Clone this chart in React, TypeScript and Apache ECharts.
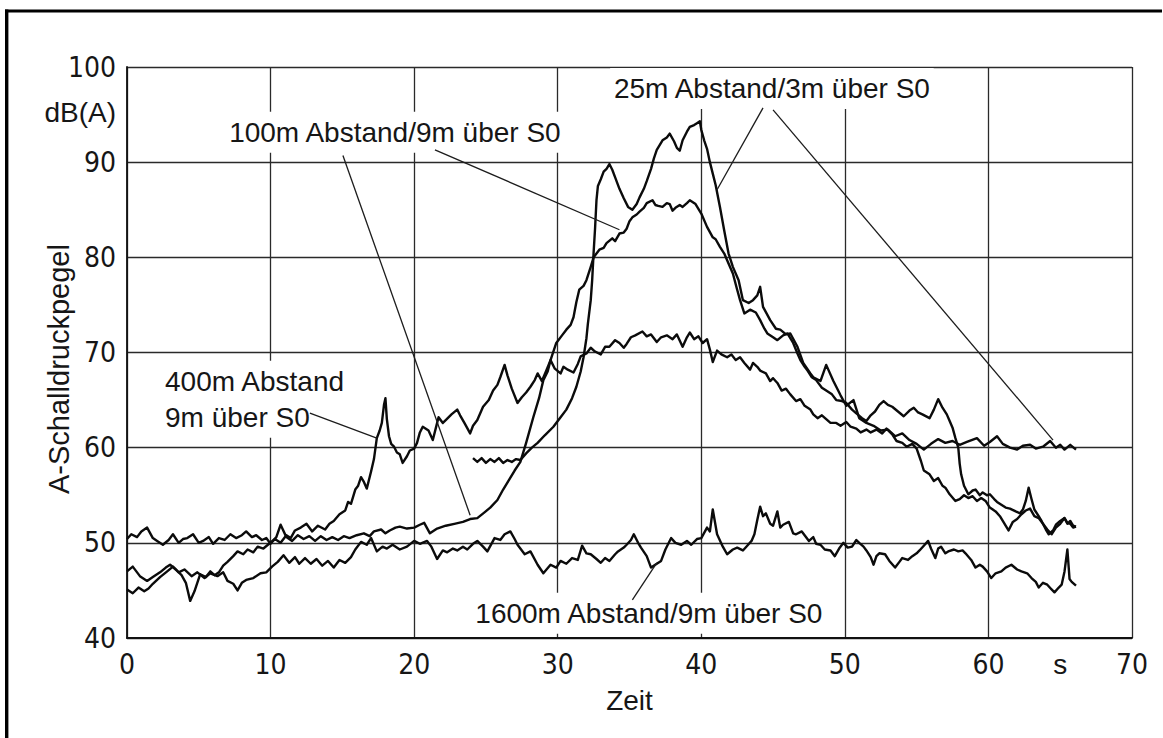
import React, { useEffect, useRef } from "react";
import * as echarts from "echarts";

// ---- axis ticks ----
const xTicks = [0, 10, 20, 30, 40, 50, 60, 70];
const yTicks = [40, 50, 60, 70, 80, 90, 100];
const unitTickAt = 65; // position of the "s" unit among the x labels

// ---- series values: [time s, level dB(A)] ----
const s25m: [number, number][] = [
  [24.1, 58.9], [24.4, 58.5], [24.7, 58.9], [25.0, 58.4], [25.3, 58.8], [25.6, 58.5], [25.9, 58.9], [26.2, 58.4],
  [26.5, 58.7], [26.8, 58.5], [27.1, 58.8], [27.4, 58.7], [27.8, 59.4], [28.2, 60.0], [28.6, 60.5], [29.1, 61.3],
  [29.7, 62.2], [30.2, 63.2], [30.6, 64.0], [31.0, 65.2], [31.3, 66.4], [31.6, 68.0], [31.8, 69.5], [32.0, 71.5],
  [32.1, 73.0], [32.3, 75.5], [32.4, 77.6], [32.5, 80.5], [32.6, 83.0], [32.7, 86.0], [32.8, 87.5], [33.0, 88.2],
  [33.2, 89.0], [33.4, 89.3], [33.6, 89.8], [33.8, 89.2], [34.0, 88.4], [34.3, 87.2], [34.6, 86.2], [34.9, 85.3],
  [35.2, 85.0], [35.5, 85.6], [35.7, 86.3], [36.0, 87.2], [36.2, 88.0], [36.5, 89.3], [36.7, 90.4], [36.9, 91.3],
  [37.1, 91.8], [37.3, 92.3], [37.6, 92.6], [37.8, 93.0], [38.1, 92.2], [38.3, 91.5], [38.5, 91.2], [38.7, 92.3],
  [39.0, 93.2], [39.2, 93.7], [39.5, 93.9], [39.7, 94.1], [39.9, 94.3], [40.0, 93.4], [40.2, 92.3], [40.4, 91.4],
  [40.6, 90.0], [40.8, 88.8], [41.0, 87.6], [41.3, 85.3], [41.6, 82.8], [41.9, 80.4], [42.2, 79.0], [42.6, 77.6],
  [42.9, 75.5], [43.3, 75.2], [43.6, 75.5], [43.9, 76.0], [44.1, 76.9], [44.3, 74.8], [44.8, 73.4], [45.2, 72.5],
  [45.5, 72.4], [45.9, 71.9], [46.2, 72.0], [46.7, 70.6], [47.1, 68.9], [47.6, 67.8], [47.8, 67.4], [48.3, 67.0],
  [48.7, 68.7], [49.2, 67.0], [49.7, 65.5], [50.1, 64.4], [50.6, 65.0], [51.0, 63.1], [51.5, 62.6], [52.0, 62.3],
  [52.5, 61.8], [53.0, 61.9], [53.5, 61.2], [54.0, 61.5], [54.5, 60.8], [55.0, 60.4], [55.5, 59.8], [56.0, 60.4],
  [56.5, 60.9], [57.0, 60.5], [57.5, 60.7], [58.0, 60.3], [58.5, 60.6], [59.2, 61.0], [59.7, 60.2], [60.1, 60.6],
  [60.6, 61.2], [61.0, 60.4], [61.5, 60.0], [62.0, 59.8], [62.4, 60.2], [62.9, 60.3], [63.3, 59.9], [63.8, 60.1],
  [64.3, 60.7], [64.7, 60.0], [65.0, 60.3], [65.3, 59.8], [65.7, 60.3], [66.1, 59.8],
];

const s100m: [number, number][] = [
  [0, 50.4], [0.3, 50.9], [0.7, 50.6], [1.0, 51.2], [1.4, 51.6], [1.8, 50.5], [2.1, 50.2], [2.5, 49.8], [2.9, 50.3],
  [3.2, 50.9], [3.6, 50.0], [3.9, 50.4], [4.2, 50.5], [4.6, 50.9], [5.0, 50.0], [5.3, 50.2], [5.7, 50.6], [6.0, 49.9],
  [6.4, 50.5], [6.8, 50.3], [7.2, 50.9], [7.6, 50.5], [8.0, 50.8], [8.3, 51.2], [8.7, 50.6], [9.0, 50.8], [9.4, 50.3],
  [9.7, 50.5], [10.0, 49.9], [10.4, 50.6], [10.7, 51.9], [11.1, 50.6], [11.5, 50.2], [11.9, 50.8], [12.3, 50.4],
  [12.7, 50.7], [13.1, 50.2], [13.5, 50.7], [13.9, 50.3], [14.3, 50.6], [14.7, 50.3], [15.1, 50.7], [15.5, 50.5],
  [16.0, 50.8], [16.5, 51.0], [16.9, 50.7], [17.2, 51.2], [17.7, 51.4], [18.0, 51.0], [18.3, 51.3], [18.7, 51.6],
  [19.0, 51.7], [19.5, 51.5], [20.0, 51.6], [20.4, 51.9], [20.7, 52.1], [21.1, 51.0], [21.6, 51.5], [22.2, 51.8],
  [22.8, 52.0], [23.4, 52.2], [23.9, 52.5], [24.4, 52.6], [24.9, 53.2], [25.3, 53.7], [25.8, 54.5], [26.2, 55.6],
  [26.6, 56.6], [27.0, 57.6], [27.4, 58.5], [27.8, 60.5], [28.3, 63.2], [28.7, 65.2], [29.0, 67.1], [29.3, 68.0],
  [29.5, 69.2], [29.9, 71.0], [30.3, 71.8], [30.6, 72.4], [30.9, 72.9], [31.1, 73.7], [31.3, 75.3], [31.5, 76.6],
  [31.8, 77.0], [32.0, 77.6], [32.3, 79.0], [32.5, 80.0], [32.9, 80.8], [33.2, 81.0], [33.4, 81.5], [33.8, 82.0],
  [34.0, 81.7], [34.3, 82.5], [34.6, 82.6], [34.8, 83.0], [35.0, 83.8], [35.2, 84.2], [35.5, 84.5], [35.7, 84.8],
  [36.0, 85.2], [36.2, 85.7], [36.6, 86.0], [36.8, 85.5], [37.0, 85.4], [37.3, 85.3], [37.6, 85.7], [37.8, 85.6],
  [38.0, 84.9], [38.2, 85.2], [38.5, 85.5], [38.7, 85.3], [39.0, 85.7], [39.2, 86.0], [39.6, 85.6], [40.0, 84.6],
  [40.4, 83.2], [40.8, 82.1], [41.0, 81.9], [41.3, 81.1], [41.6, 80.4], [41.8, 79.7], [42.2, 78.3], [42.5, 76.6],
  [42.7, 75.5], [43.0, 74.1], [43.4, 74.5], [43.8, 74.2], [44.1, 73.4], [44.4, 72.5], [44.6, 72.0], [45.0, 71.6],
  [45.3, 71.3], [45.7, 71.8], [46.0, 72.0], [46.4, 71.0], [46.7, 69.9], [46.9, 69.2], [47.2, 68.5], [47.4, 68.1],
  [47.7, 67.4], [48.0, 67.1], [48.4, 66.3], [48.7, 66.0], [49.1, 65.6], [49.4, 65.0], [49.8, 64.9], [50.1, 64.7],
  [50.5, 64.0], [50.8, 63.6], [51.2, 63.1], [51.5, 62.8], [51.8, 63.4], [52.1, 63.8], [52.4, 64.5], [52.7, 64.9],
  [53.0, 64.5], [53.3, 64.3], [53.7, 63.8], [54.1, 63.3], [54.5, 63.9], [54.8, 64.2], [55.1, 63.7], [55.4, 63.5],
  [55.9, 63.1], [56.2, 64.0], [56.5, 65.1], [56.8, 64.2], [57.1, 63.5], [57.3, 62.8], [57.5, 62.1], [57.7, 61.0],
  [57.9, 60.0], [58.0, 58.3], [58.1, 57.2], [58.3, 56.0], [58.6, 55.1], [58.9, 55.5], [59.1, 55.6], [59.4, 55.0],
  [59.6, 55.3], [59.9, 55.0], [60.1, 55.1], [60.4, 54.6], [60.6, 54.3], [60.9, 54.0], [61.2, 53.7], [61.5, 53.6],
  [61.9, 53.3], [62.2, 53.1], [62.4, 53.5], [62.6, 54.4], [62.8, 55.8], [63.0, 54.6], [63.2, 53.5], [63.5, 52.8],
  [63.7, 52.3], [64.0, 51.4], [64.2, 50.9], [64.5, 51.3], [64.7, 51.9], [65.0, 52.3], [65.3, 52.6], [65.5, 52.1],
  [65.7, 52.0], [65.9, 51.6], [66.1, 51.7],
];

const s400m: [number, number][] = [
  [0, 47.0], [0.4, 47.5], [0.9, 46.5], [1.4, 46.0], [1.8, 46.4], [2.3, 46.9], [2.7, 47.4], [3.0, 47.7], [3.4, 47.2],
  [3.8, 46.6], [4.1, 45.8], [4.4, 43.9], [4.7, 44.9], [5.1, 46.7], [5.5, 46.4], [5.8, 47.0], [6.1, 46.6], [6.4, 46.9],
  [6.7, 47.6], [7.0, 48.0], [7.4, 48.6], [7.7, 49.1], [8.1, 48.8], [8.4, 49.3], [8.8, 49.0], [9.1, 49.6], [9.5, 49.4],
  [9.9, 49.9], [10.3, 50.4], [10.7, 50.0], [11.1, 50.8], [11.4, 50.5], [11.7, 51.3], [12.1, 51.6], [12.5, 52.0],
  [12.9, 51.2], [13.3, 51.8], [13.8, 51.4], [14.1, 52.0], [14.4, 52.3], [14.8, 53.0], [15.2, 53.4], [15.4, 54.3],
  [15.6, 54.1], [15.9, 55.6], [16.1, 56.0], [16.3, 56.9], [16.5, 56.4], [16.7, 55.7], [17.0, 57.5], [17.2, 58.8],
  [17.4, 61.0], [17.6, 61.8], [17.75, 62.6], [17.9, 64.5], [18.0, 65.2], [18.1, 63.0], [18.25, 61.2], [18.4, 60.4],
  [18.6, 60.1], [18.8, 59.5], [19.0, 59.3], [19.2, 58.4], [19.5, 59.1], [19.7, 59.7], [20.0, 59.9], [20.2, 60.5],
  [20.4, 61.6], [20.6, 62.2], [21.0, 61.8], [21.3, 60.8], [21.5, 62.0], [21.7, 63.2], [22.0, 62.6], [22.2, 62.9],
  [22.6, 63.5], [23.0, 64.0], [23.2, 63.4], [23.5, 62.6], [23.9, 61.5], [24.1, 62.3], [24.4, 62.9], [24.8, 64.3],
  [25.2, 65.0], [25.5, 66.0], [25.8, 66.6], [26.0, 67.4], [26.3, 68.7], [26.5, 67.6], [26.8, 66.2], [27.2, 64.7],
  [27.5, 65.3], [27.8, 65.8], [28.1, 66.4], [28.4, 67.1], [28.6, 67.8], [28.9, 67.0], [29.2, 68.1], [29.5, 69.2],
  [29.8, 68.3], [30.2, 67.8], [30.4, 68.5], [30.7, 68.2], [31.1, 67.9], [31.4, 68.8], [31.6, 69.6], [32.0, 69.9],
  [32.3, 70.5], [32.6, 70.1], [33.0, 69.8], [33.3, 70.6], [33.6, 70.6], [34.0, 71.3], [34.3, 71.0], [34.6, 70.5],
  [34.8, 70.9], [35.1, 71.6], [35.4, 71.8], [35.9, 72.2], [36.2, 71.7], [36.5, 71.9], [36.9, 71.1], [37.2, 71.6],
  [37.6, 71.8], [38.0, 71.4], [38.3, 71.9], [38.7, 70.6], [39.0, 71.6], [39.2, 72.1], [39.5, 71.4], [39.8, 71.7],
  [40.1, 71.0], [40.4, 71.4], [40.6, 70.3], [40.8, 69.0], [41.1, 70.2], [41.4, 69.8], [41.8, 69.5], [42.1, 69.8],
  [42.4, 69.2], [42.7, 69.5], [43.0, 68.9], [43.4, 68.2], [43.6, 68.9], [43.9, 68.5], [44.1, 68.1], [44.5, 67.8],
  [44.8, 67.0], [45.0, 67.3], [45.3, 66.8], [45.6, 66.0], [45.9, 66.2], [46.2, 65.6], [46.6, 64.9], [46.9, 65.1],
  [47.2, 64.4], [47.6, 64.0], [47.8, 63.5], [48.1, 63.1], [48.4, 63.4], [48.7, 63.0], [49.0, 62.6], [49.4, 62.6],
  [49.7, 62.3], [50.1, 62.7], [50.4, 62.2], [50.8, 62.0], [51.1, 61.6], [51.5, 61.9], [51.8, 61.6], [52.2, 61.9],
  [52.6, 61.5], [52.9, 62.0], [53.3, 61.4], [53.6, 60.7], [54.0, 60.5], [54.3, 60.1], [54.7, 60.4], [55.0, 59.9],
  [55.3, 58.6], [55.5, 57.6], [55.9, 57.2], [56.2, 56.5], [56.5, 56.8], [56.8, 56.0], [57.0, 55.8], [57.3, 55.1],
  [57.7, 54.4], [58.0, 54.6], [58.3, 55.0], [58.6, 54.7], [58.9, 54.9], [59.2, 54.4], [59.5, 54.7], [59.8, 54.4],
  [60.1, 53.7], [60.5, 53.3], [60.8, 52.8], [61.0, 52.3], [61.2, 51.8], [61.4, 51.3], [61.7, 52.2], [62.0, 52.5],
  [62.3, 53.0], [62.6, 53.4], [62.9, 53.6], [63.2, 52.8], [63.5, 52.6], [63.8, 52.0], [64.1, 51.4], [64.4, 50.9],
  [64.7, 51.6], [65.0, 52.0], [65.3, 52.6], [65.5, 52.0], [65.7, 52.3], [65.9, 51.8], [66.1, 51.7],
];

const s1600m: [number, number][] = [
  [0, 45.1], [0.4, 44.7], [0.8, 45.3], [1.2, 44.9], [1.5, 45.2], [1.8, 45.7], [2.3, 46.4], [2.8, 47.0], [3.2, 47.5],
  [3.6, 46.9], [4.0, 47.2], [4.5, 46.5], [4.9, 46.9], [5.4, 46.3], [5.8, 46.8], [6.3, 46.5], [6.7, 46.9], [7.0, 46.0],
  [7.4, 45.7], [7.7, 45.0], [8.0, 45.8], [8.3, 46.1], [8.8, 46.3], [9.3, 46.8], [9.7, 46.9], [10.1, 47.5], [10.5, 48.0],
  [10.9, 48.7], [11.3, 47.9], [11.7, 48.5], [12.0, 47.8], [12.4, 48.4], [12.8, 47.8], [13.2, 48.3], [13.6, 47.6],
  [14.0, 48.1], [14.4, 47.4], [14.8, 48.2], [15.2, 47.9], [15.6, 48.5], [15.9, 49.3], [16.3, 50.1], [16.7, 49.8],
  [17.0, 50.5], [17.4, 49.1], [17.8, 49.6], [18.1, 49.4], [18.5, 49.8], [19.0, 49.3], [19.5, 49.6], [20.0, 50.2],
  [20.4, 49.9], [20.9, 50.2], [21.2, 49.6], [21.6, 48.3], [22.0, 49.2], [22.3, 49.0], [22.7, 49.4], [23.0, 49.2],
  [23.4, 49.6], [23.7, 49.3], [24.1, 49.9], [24.4, 50.2], [24.8, 49.6], [25.1, 49.1], [25.6, 50.5], [26.0, 50.3],
  [26.3, 50.9], [26.7, 51.2], [27.0, 50.4], [27.2, 49.8], [27.7, 48.8], [28.1, 49.1], [28.6, 47.7], [29.0, 46.8],
  [29.5, 47.7], [29.9, 47.4], [30.2, 48.1], [30.6, 47.8], [31.0, 48.4], [31.4, 48.2], [31.7, 49.7], [32.0, 48.9],
  [32.3, 48.8], [32.7, 48.3], [33.0, 47.9], [33.3, 48.4], [33.6, 48.1], [34.0, 48.8], [34.2, 49.1], [34.6, 49.5],
  [34.8, 49.8], [35.1, 50.3], [35.3, 50.9], [35.6, 50.0], [35.8, 49.5], [36.2, 48.6], [36.5, 47.4], [36.9, 47.8],
  [37.2, 48.1], [37.5, 49.3], [37.9, 50.5], [38.2, 50.0], [38.6, 49.8], [39.0, 50.2], [39.3, 49.8], [39.7, 50.4],
  [40.0, 50.5], [40.4, 51.6], [40.6, 51.2], [40.8, 53.5], [41.1, 50.9], [41.5, 49.6], [41.8, 48.8], [42.2, 49.3],
  [42.5, 49.5], [42.9, 49.2], [43.2, 49.7], [43.5, 50.2], [43.7, 50.9], [43.9, 52.4], [44.1, 53.8], [44.3, 52.8],
  [44.5, 53.1], [44.8, 52.0], [45.0, 51.8], [45.3, 53.3], [45.5, 51.6], [45.7, 51.9], [46.1, 52.2], [46.4, 51.0],
  [46.6, 50.9], [47.0, 51.2], [47.5, 50.2], [47.8, 50.6], [48.0, 49.9], [48.3, 49.8], [48.6, 49.3], [49.0, 49.2],
  [49.3, 48.6], [49.6, 49.4], [49.9, 50.0], [50.2, 49.5], [50.5, 49.6], [50.8, 50.3], [51.0, 50.0], [51.3, 49.6],
  [51.5, 49.2], [51.8, 48.5], [52.0, 47.7], [52.2, 48.6], [52.4, 48.9], [52.8, 48.8], [53.1, 48.1], [53.5, 47.4],
  [53.8, 48.0], [54.0, 48.4], [54.4, 48.2], [54.7, 48.6], [55.0, 48.9], [55.2, 49.2], [55.5, 49.7], [55.8, 50.2],
  [56.0, 49.4], [56.3, 48.4], [56.5, 49.4], [56.7, 49.6], [57.0, 48.9], [57.2, 49.1], [57.6, 49.3], [57.9, 49.1],
  [58.2, 49.2], [58.4, 48.9], [58.8, 48.2], [59.1, 47.4], [59.4, 47.7], [59.6, 47.5], [59.9, 47.0], [60.2, 46.3],
  [60.5, 46.8], [60.9, 47.0], [61.2, 47.4], [61.6, 47.7], [62.0, 47.2], [62.3, 47.0], [62.7, 46.8], [63.0, 46.3],
  [63.3, 45.9], [63.5, 45.3], [63.8, 45.8], [64.1, 45.6], [64.4, 45.1], [64.6, 44.8], [64.9, 45.3], [65.1, 45.6],
  [65.3, 47.0], [65.5, 49.3], [65.65, 46.2], [65.8, 45.9], [66.1, 45.5],
];

// ---- annotation texts (anchored in data coordinates) ----
const annotationTexts = [
  { text: "100m Abstand/9m über S0", t: 18.66, v: 93.15, align: "center" },
  { text: "25m Abstand/3m über S0", t: 44.92, v: 97.75, align: "center" },
  { text: "400m Abstand\n9m über S0", t: 2.44, v: 65.1, align: "left" },
  { text: "1600m Abstand/9m über S0", t: 36.35, v: 42.6, align: "center" },
];

// leader lines: [from, to] in data coordinates
const leaderLines: [number, number][][] = [
  [[12.74, 63.63], [17.4, 61.0]],
  [[15.04, 90.7], [23.9, 52.9]],
  [[21.45, 91.3], [34.3, 82.9]],
  [[44.3, 95.7], [41.1, 87.1]],
  [[45.0, 95.5], [64.5, 60.8]],
  [[35.2, 44.0], [36.9, 47.9]],
];

const unitLabel = { text: "dB(A)", v: 95.25 };
const yTitle = { text: "A-Schalldruckpegel", v: 68.26 };
const xTitle = "Zeit";

const TEXT_FONT = "'Liberation Sans', Arial, 'DejaVu Sans', sans-serif";
const NUM_FONT = "'Liberation Sans Narrow', 'DejaVu Sans Condensed', 'Liberation Sans', sans-serif";
const INK = "#161616";

export default function App() {
  const ref = useRef<HTMLDivElement>(null);

  useEffect(() => {
    if (!ref.current) return;
    const chart = echarts.init(ref.current, undefined, { renderer: "svg" });

    const lineSeries = (name: string, data: [number, number][]) => ({
      name,
      type: "line",
      data,
      showSymbol: false,
      symbol: "none",
      silent: true,
      z: 3,
      lineStyle: { color: "#0b0b0b", width: 2.4, join: "round" },
    });

    chart.setOption({
      animation: false,
      backgroundColor: "#ffffff",
      grid: { left: 127, right: 31, top: 67, bottom: 100, containLabel: false },
      xAxis: [
        {
          type: "value",
          min: xTicks[0],
          max: xTicks[xTicks.length - 1],
          interval: xTicks[1] - xTicks[0],
          axisLine: { show: true, lineStyle: { color: "#111", width: 1.8 } },
          axisTick: { show: false },
          splitLine: { show: true, lineStyle: { color: "#2a2a2a", width: 1.3 } },
          axisLabel: { fontSize: 28, fontFamily: NUM_FONT, color: INK, margin: 12 },
          name: xTitle,
          nameLocation: "middle",
          nameGap: 48,
          nameTextStyle: { fontSize: 28, fontFamily: TEXT_FONT, color: INK },
        },
        {
          type: "value",
          min: xTicks[0],
          max: xTicks[xTicks.length - 1],
          interval: 5,
          position: "bottom",
          axisLine: { show: false },
          axisTick: { show: false },
          splitLine: { show: false },
          axisLabel: {
            fontSize: 28,
            fontFamily: TEXT_FONT,
            color: INK,
            margin: 12,
            formatter: (val: number) => (val === unitTickAt ? "s" : ""),
          },
        },
      ],
      yAxis: {
        type: "value",
        min: yTicks[0],
        max: yTicks[yTicks.length - 1],
        interval: yTicks[1] - yTicks[0],
        axisLine: { show: true, lineStyle: { color: "#111", width: 1.8 } },
        axisTick: { show: false },
        splitLine: { show: true, lineStyle: { color: "#2a2a2a", width: 1.3 } },
        axisLabel: { fontSize: 28, fontFamily: NUM_FONT, color: INK, margin: 11 },
      },
      series: [
        lineSeries("25m Abstand/3m über S0", s25m),
        lineSeries("100m Abstand/9m über S0", s100m),
        lineSeries("400m Abstand/9m über S0", s400m),
        lineSeries("1600m Abstand/9m über S0", s1600m),
      ],
    });

    const px = (t: number, v: number) =>
      chart.convertToPixel({ gridIndex: 0 }, [t, v]) as number[];

    const elements: any[] = [];
    // page frame (left and top edges of the scanned page)
    elements.push({
      type: "line",
      shape: { x1: 6.7, y1: 9.5, x2: 6.7, y2: 738 },
      style: { stroke: "#000", lineWidth: 3.4 },
      z: 10,
    });
    elements.push({
      type: "line",
      shape: { x1: 5, y1: 11, x2: 1162, y2: 11 },
      style: { stroke: "#000", lineWidth: 3.2 },
      z: 10,
    });

    annotationTexts.forEach((a) => {
      const p = px(a.t, a.v);
      elements.push({
        type: "text",
        x: p[0],
        y: p[1],
        z: 20,
        style: {
          text: a.text,
          font: `28px ${TEXT_FONT}`,
          fill: INK,
          align: a.align,
          textAlign: a.align,
          verticalAlign: "middle",
          textVerticalAlign: "middle",
          lineHeight: 36,
          backgroundColor: "#ffffff",
          padding: [2, 3, 3, 3],
        },
      });
    });

    leaderLines.forEach((seg) => {
      const a = px(seg[0][0], seg[0][1]);
      const b = px(seg[1][0], seg[1][1]);
      elements.push({
        type: "line",
        z: 25,
        shape: { x1: a[0], y1: a[1], x2: b[0], y2: b[1] },
        style: { stroke: "#1c1c1c", lineWidth: 1.3 },
      });
    });

    const u = px(xTicks[0], unitLabel.v);
    elements.push({
      type: "text",
      x: u[0] - 11,
      y: u[1],
      z: 20,
      style: {
        text: unitLabel.text,
        font: `28px ${TEXT_FONT}`,
        fill: INK,
        align: "right",
        textAlign: "right",
        verticalAlign: "middle",
        textVerticalAlign: "middle",
      },
    });

    // rotated y-axis title
    const yt = px(xTicks[0], yTitle.v);
    elements.push({
      type: "text",
      x: yt[0] - 68,
      y: yt[1],
      rotation: Math.PI / 2,
      z: 20,
      style: {
        text: yTitle.text,
        font: `29px ${TEXT_FONT}`,
        fill: INK,
        align: "center",
        textAlign: "center",
        verticalAlign: "middle",
        textVerticalAlign: "middle",
      },
    });

    chart.setOption({ graphic: { elements } });

    return () => chart.dispose();
  }, []);

  return (
    <div
      ref={ref}
      style={{ position: "fixed", left: 0, top: 0, width: 1163, height: 738, background: "#fff" }}
    />
  );
}
